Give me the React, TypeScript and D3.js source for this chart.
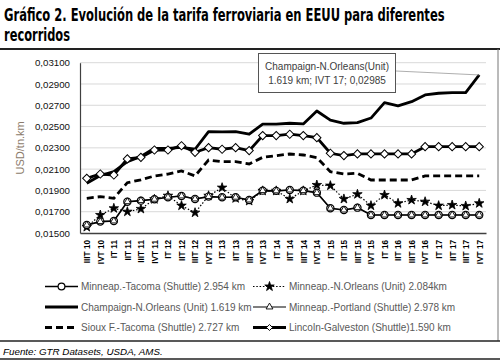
import React, { useRef, useEffect } from 'react';
import * as d3 from 'd3';

// Quarters on the x axis
const categories = [
  'IIIT 10', 'IVT 10', 'IT 11', 'IIT 11', 'IIIT 11', 'IVT 11', 'IT 12', 'IIT 12', 'IIIT 12', 'IVT 12',
  'IT 13', 'IIT 13', 'IIIT 13', 'IVT 13', 'IT 14', 'IIT 14', 'IIIT 14', 'IVT 14', 'IT 15', 'IIT 15',
  'IIIT 15', 'IVT 15', 'IT 16', 'IIT 16', 'IIIT 16', 'IVT 16', 'IT 17', 'IIT 17', 'IIIT 17', 'IVT 17',
];

// USD/tn.km per route
const minneapTacoma = [
  0.01575, 0.01607, 0.01613, 0.01794, 0.01804, 0.01817, 0.01836, 0.01848, 0.0182, 0.01842,
  0.01836, 0.01836, 0.0181, 0.01898, 0.01896, 0.01904, 0.01898, 0.01879, 0.01732, 0.01716,
  0.01738, 0.01669, 0.01669, 0.01669, 0.01669, 0.01669, 0.01669, 0.01669, 0.01669, 0.01669,
];
const minneapNOrleans = [
  0.01556, 0.01669, 0.01732, 0.017, 0.01726, 0.01817, 0.0185, 0.01757, 0.01691, 0.0185,
  0.01926, 0.01826, 0.01801, 0.01896, 0.01896, 0.0182, 0.01896, 0.01951, 0.01945, 0.0182,
  0.01864, 0.01757, 0.01857, 0.01779, 0.0181, 0.01794, 0.01757, 0.01763, 0.01754, 0.01779,
];
const champaignNOrleans = [
  0.01967, 0.0204, 0.02076, 0.0217, 0.0222, 0.02296, 0.02296, 0.02305, 0.02287, 0.02452,
  0.0245, 0.02452, 0.02428, 0.02522, 0.02522, 0.02531, 0.02525, 0.02646, 0.0256, 0.02531,
  0.02537, 0.0258, 0.02725, 0.02694, 0.02734, 0.02797, 0.02813, 0.02819, 0.02819, 0.02985,
];
const minneapPortland = [
  0.01575, 0.01607, 0.01613, 0.01794, 0.01804, 0.01817, 0.01836, 0.01848, 0.0182, 0.01842,
  0.01836, 0.01836, 0.0181, 0.01898, 0.01896, 0.01904, 0.01898, 0.01879, 0.01732, 0.01716,
  0.01738, 0.01669, 0.01669, 0.01669, 0.01669, 0.01669, 0.01669, 0.01669, 0.01669, 0.01669,
];
const siouxTacoma = [
  0.01826, 0.01841, 0.01826, 0.01973, 0.02, 0.02036, 0.02054, 0.02083, 0.02036, 0.02186,
  0.0217, 0.0217, 0.02149, 0.02211, 0.02227, 0.02242, 0.02233, 0.02208, 0.02076, 0.02054,
  0.02061, 0.01998, 0.01998, 0.01998, 0.01998, 0.02036, 0.02036, 0.02036, 0.02036, 0.02036,
];
const lincolnGalveston = [
  0.02014, 0.02054, 0.02045, 0.02196, 0.02211, 0.0228, 0.0228, 0.0232, 0.02258, 0.02302,
  0.02287, 0.02302, 0.02274, 0.02415, 0.02415, 0.02428, 0.02415, 0.02396, 0.02249, 0.02227,
  0.02243, 0.02243, 0.02243, 0.02243, 0.02243, 0.02311, 0.02311, 0.02311, 0.02311, 0.02311,
];

const yTicks = [0.015, 0.017, 0.019, 0.021, 0.023, 0.025, 0.027, 0.029, 0.031];

const legendLabels = [
  'Minneap.-Tacoma (Shuttle) 2.954 km',
  'Minneap.-N.Orleans (Unit) 2.084km',
  'Champaign-N.Orleans (Unit) 1.619 km',
  'Minneap.-Portland (Shuttle) 2.978 km',
  'Sioux F.-Tacoma (Shuttle) 2.727 km',
  'Lincoln-Galveston (Shuttle)1.590 km',
];

const titleLines = ['Gráfico 2. Evolución de la tarifa ferroviaria en EEUU para diferentes', 'recorridos'];
const calloutLines = ['Champaign-N.Orleans(Unit)', '1.619  km; IVT 17; 0,02985'];
const sourceText = 'Fuente: GTR Datasets, USDA, AMS.';

const App = () => {
  const chartRef = useRef<SVGSVGElement>(null);

  useEffect(() => {
    const svg = d3.select(chartRef.current);
    svg.selectAll('*').remove();

    const plot = { left: 80, right: 486, top: 62.7, bottom: 233 };
    const sans = "'Liberation Sans', Arial, sans-serif";

    svg.append('rect').attr('width', 500).attr('height', 361).attr('fill', '#fff');

    // Title, squeezed horizontally to the reference width
    const narrow = "'Liberation Sans Narrow', 'DejaVu Sans Condensed', sans-serif";
    const titleWidths = [441, 66];
    titleLines.forEach((t, i) => {
      const txt = svg.append('text').attr('x', 0).attr('y', 0)
        .attr('font-family', narrow).attr('font-weight', 'bold').attr('font-size', 17)
        .text(t);
      const natural = (txt.node() as SVGTextElement).getComputedTextLength() || titleWidths[i];
      const sx = Math.min(1, titleWidths[i] / natural);
      txt.attr('transform', `translate(4,${20.5 + i * 20}) scale(${sx},1)`);
    });

    // Frame
    svg.append('line').attr('x1', 0).attr('x2', 500).attr('y1', 49).attr('y2', 49)
      .attr('stroke', '#222').attr('stroke-width', 1.8);
    svg.append('line').attr('x1', 498).attr('x2', 498).attr('y1', 49).attr('y2', 341)
      .attr('stroke', '#777').attr('stroke-width', 1);
    svg.append('line').attr('x1', 0).attr('x2', 500).attr('y1', 341).attr('y2', 341)
      .attr('stroke', '#222').attr('stroke-width', 1.5);
    svg.append('line').attr('x1', 0).attr('x2', 500).attr('y1', 359).attr('y2', 359)
      .attr('stroke', '#222').attr('stroke-width', 1.5);

    // Scales
    const x = d3.scalePoint<string>().domain(categories).range([plot.left, plot.right]).padding(0.5);
    const y = d3.scaleLinear().domain([0.015, 0.031]).range([plot.bottom, plot.top]);
    const fmt = (d: d3.NumberValue) => d3.format('.5f')(+d).replace('.', ',');

    // Gridlines
    svg.append('g').selectAll('line').data(yTicks.slice(1)).enter().append('line')
      .attr('x1', plot.left).attr('x2', plot.right)
      .attr('y1', d => y(d)).attr('y2', d => y(d))
      .attr('stroke', '#d9d9d9').attr('stroke-width', 1);

    // Y axis
    const yAxis = svg.append('g').attr('transform', `translate(${plot.left},0)`)
      .call(d3.axisLeft(y).tickValues(yTicks).tickSize(0).tickPadding(10).tickFormat(fmt));
    yAxis.select('.domain').attr('stroke', '#404040').attr('stroke-width', 1.2);
    yAxis.selectAll('text').attr('font-family', sans).attr('font-size', 9.7).attr('fill', '#111');

    svg.append('text')
      .attr('transform', `translate(24,${(plot.top + plot.bottom) / 2}) rotate(-90)`)
      .attr('text-anchor', 'middle').attr('font-family', sans).attr('font-size', 11)
      .attr('fill', '#8b7b6b').text('USD/tn.km');

    // X axis
    const xAxis = svg.append('g').attr('transform', `translate(0,${plot.bottom})`)
      .call(d3.axisBottom(x).tickSize(0).tickSizeOuter(0));
    xAxis.select('.domain').attr('stroke', '#404040').attr('stroke-width', 1.3);
    xAxis.selectAll('text')
      .attr('transform', 'rotate(-90)').attr('x', -7).attr('y', 0).attr('dy', '0.35em')
      .attr('text-anchor', 'end').attr('font-family', sans).attr('font-weight', 'bold')
      .attr('font-size', 8.2).attr('fill', '#000');

    const line = d3.line<number>().x((_, i) => x(categories[i]) as number).y(d => y(d));
    const diamond = d3.symbol().type(d3.symbolSquare).size(34);
    const triangle = d3.symbol().type(d3.symbolTriangle).size(20);
    const star = d3.symbol().type(d3.symbolStar).size(28);

    // Sioux F.-Tacoma
    svg.append('path').datum(siouxTacoma).attr('d', line).attr('fill', 'none')
      .attr('stroke', '#000').attr('stroke-width', 2.8).attr('stroke-dasharray', '7,4');

    // Minneap.-N.Orleans
    svg.append('path').datum(minneapNOrleans).attr('d', line).attr('fill', 'none')
      .attr('stroke', '#000').attr('stroke-width', 1.2).attr('stroke-dasharray', '1.5,1.8');
    svg.append('g').selectAll('path').data(minneapNOrleans).enter().append('path')
      .attr('d', star).attr('fill', '#000').attr('stroke', '#000').attr('stroke-width', 0.8)
      .attr('transform', (d, i) => `translate(${x(categories[i])},${y(d)})`);

    // Minneap.-Tacoma
    svg.append('path').datum(minneapTacoma).attr('d', line).attr('fill', 'none')
      .attr('stroke', '#000').attr('stroke-width', 1.6);
    svg.append('g').selectAll('circle').data(minneapTacoma).enter().append('circle')
      .attr('cx', (_, i) => x(categories[i]) as number).attr('cy', d => y(d)).attr('r', 3.6)
      .attr('fill', '#fff').attr('stroke', '#000').attr('stroke-width', 1.2);

    // Minneap.-Portland
    svg.append('path').datum(minneapPortland).attr('d', line).attr('fill', 'none')
      .attr('stroke', '#000').attr('stroke-width', 1.2).attr('stroke-opacity', 0.6);
    svg.append('g').selectAll('path').data(minneapPortland).enter().append('path')
      .attr('d', triangle).attr('fill', '#fff').attr('stroke', '#000').attr('stroke-width', 0.9)
      .attr('transform', (d, i) => `translate(${x(categories[i])},${y(d)})`);

    // Champaign-N.Orleans
    svg.append('path').datum(champaignNOrleans).attr('d', line).attr('fill', 'none')
      .attr('stroke', '#000').attr('stroke-width', 2.8).attr('stroke-linejoin', 'round');

    // Lincoln-Galveston
    svg.append('path').datum(lincolnGalveston).attr('d', line).attr('fill', 'none')
      .attr('stroke', '#000').attr('stroke-width', 2.8);
    svg.append('g').selectAll('path').data(lincolnGalveston).enter().append('path')
      .attr('d', diamond).attr('fill', '#fff').attr('stroke', '#000').attr('stroke-width', 1)
      .attr('transform', (d, i) => `translate(${x(categories[i])},${y(d)}) rotate(45)`);

    // Callout for last Champaign point
    const last = champaignNOrleans.length - 1;
    svg.append('line').attr('x1', 396).attr('y1', 71)
      .attr('x2', x(categories[last]) as number).attr('y2', y(champaignNOrleans[last]))
      .attr('stroke', '#999').attr('stroke-width', 0.8);
    svg.append('rect').attr('x', 258.5).attr('y', 53.5).attr('width', 137).attr('height', 39)
      .attr('fill', '#fff').attr('stroke', '#555').attr('stroke-width', 1);
    calloutLines.forEach((t, i) => {
      svg.append('text').attr('x', 327).attr('y', 69.5 + i * 14).attr('text-anchor', 'middle')
        .attr('font-family', sans).attr('font-size', 10).attr('fill', '#404040').text(t);
    });

    // Legend
    const rows = [286.5, 307, 327.5];
    const cols = [45, 253];
    const sw = 33;
    const items = [
      { width: 1.6, dash: null, marker: 'circle' },
      { width: 1.2, dash: '1.5,1.8', marker: 'star' },
      { width: 2.8, dash: null, marker: null },
      { width: 1.2, dash: null, marker: 'triangle' },
      { width: 2.8, dash: '7,4', marker: null },
      { width: 2.8, dash: null, marker: 'diamond' },
    ];
    items.forEach((it, k) => {
      const cx = cols[k % 2];
      const cy = rows[Math.floor(k / 2)];
      const g = svg.append('g').attr('transform', `translate(${cx},${cy})`);
      g.append('line').attr('x1', 0).attr('x2', sw).attr('y1', 0).attr('y2', 0)
        .attr('stroke', '#000').attr('stroke-width', it.width)
        .attr('stroke-dasharray', it.dash ?? null);
      const m = sw / 2;
      if (it.marker === 'circle') {
        g.append('circle').attr('cx', m).attr('cy', 0).attr('r', 3.4)
          .attr('fill', '#fff').attr('stroke', '#000').attr('stroke-width', 1.2);
      } else if (it.marker === 'star') {
        g.append('path').attr('d', star).attr('fill', '#000').attr('stroke', '#000')
          .attr('stroke-width', 0.8).attr('transform', `translate(${m},0)`);
      } else if (it.marker === 'triangle') {
        g.append('path').attr('d', triangle).attr('fill', '#fff').attr('stroke', '#000')
          .attr('stroke-width', 0.9).attr('transform', `translate(${m},0)`);
      } else if (it.marker === 'diamond') {
        g.append('path').attr('d', d3.symbol().type(d3.symbolSquare).size(18)).attr('fill', '#fff')
          .attr('stroke', '#000').attr('stroke-width', 0.9).attr('transform', `translate(${m},0) rotate(45)`);
      }
      g.append('text').attr('x', sw + 3).attr('y', 0).attr('dy', '0.35em')
        .attr('font-family', sans).attr('font-size', 10).attr('fill', '#595959')
        .text(legendLabels[k]);
    });

    // Source
    svg.append('text').attr('x', 3).attr('y', 354.5)
      .attr('font-family', sans).attr('font-style', 'italic').attr('font-size', 9.8)
      .attr('fill', '#000').text(sourceText);
  }, []);

  return (
    <svg ref={chartRef} width={500} height={361}
      style={{ position: 'absolute', left: 0, top: 0, display: 'block' }} />
  );
};

export default App;
